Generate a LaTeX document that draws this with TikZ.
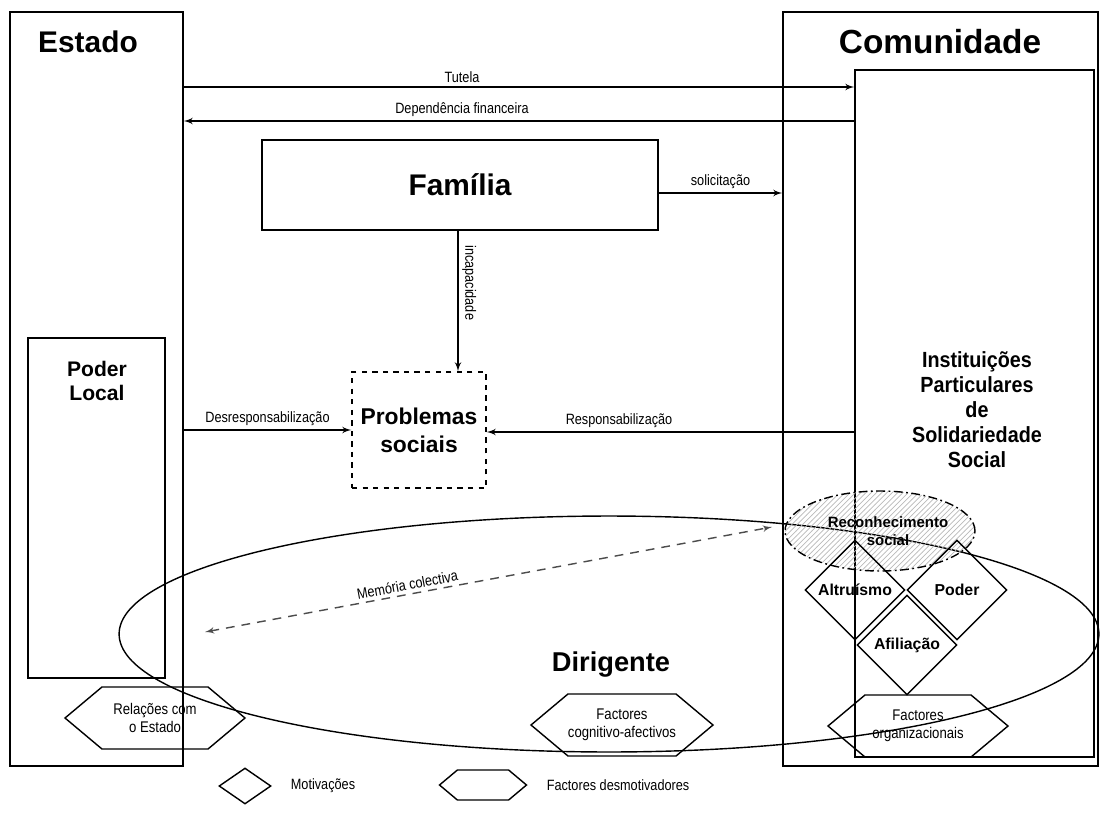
\documentclass[tikz,border=0pt]{standalone}
\usepackage{fontspec}
\setmainfont{Liberation Sans}
\newfontfamily\narrowfont[FakeStretch=0.85]{Liberation Sans}
\newfontfamily\ipssfamily[FakeStretch=0.9]{Liberation Sans}
\usepackage{tikz}
\usetikzlibrary{shapes,arrows,calc,patterns,positioning}
\newcommand{\titlefont}{\bfseries\fontsize{17}{20}\selectfont}
\newcommand{\boxfont}{\bfseries\fontsize{13}{16}\selectfont}
\newcommand{\ipssfont}{\ipssfamily\bfseries\fontsize{12.5}{14.2}\selectfont}
\newcommand{\smallfont}{\narrowfont\fontsize{8.5}{10}\selectfont}
\tikzstyle{line} = [draw, -latex']
\tikzstyle{block} = [draw, rectangle, text centered]
\tikzstyle{lbl} = [font=\smallfont, inner sep=2pt]
\tikzstyle{motive} = [draw, diamond, text centered, minimum width=2cm, minimum height=2cm, inner sep=0pt, font=\bfseries\fontsize{9}{11}\selectfont]
\tikzstyle{barrier} = [draw, signal, signal to=west and east, signal pointer angle=80, align=center, minimum width=3.6cm, minimum height=1.24cm, inner sep=0pt, font=\narrowfont\fontsize{8.8}{10.5}\selectfont]
\tikzstyle{memory} = [draw, black!70, dash pattern=on 5pt off 4pt, latex'-latex']
\tikzstyle{recog} = [draw, ellipse, dash pattern=on 5pt off 2pt on 1pt off 2pt, pattern=north east lines, pattern color=gray!55]

\begin{document}
\begin{tikzpicture}[x=0.02cm, y=-0.02cm, thick]
        \useasboundingbox (0,0) rectangle (1101,821);
        % the two sides
        \node[block, minimum width=3.46cm, minimum height=15.08cm] (estado) at (96.5,389) {};
        \node[block, minimum width=6.3cm, minimum height=15.08cm] (comunidade) at (940.5,389) {};
        \node[block, minimum width=4.78cm, minimum height=13.74cm] (ipss) at (974.5,413.5) {};
        \node[block, minimum width=2.74cm, minimum height=6.8cm] (poder) at (96.5,508) {};
        \node[font=\titlefont] (estadoT) at (88,42) {Estado};
        \node[font=\bfseries\fontsize{19}{22}\selectfont] (comunidadeT) at (940,42) {Comunidade};
        \node[font=\bfseries\fontsize{12}{14}\selectfont, align=center] (poderT) at (97,381) {Poder\\Local};
        \node[font=\ipssfont, align=center] (ipssT) at (977,410) {Instituições\\Particulares\\de\\Solidariedade\\Social};
        % middle
        \node[block, minimum width=7.92cm, minimum height=1.8cm, font=\bfseries\fontsize{17}{20}\selectfont] (familia) at (460,185) {Família};
        \node[block, dashed, minimum width=2.68cm, minimum height=2.32cm, align=center, font=\boxfont] (problemas) at (419,430) {Problemas\\sociais};
        \coordinate (tut) at (0,87);
        \coordinate (dep) at (0,121);
        \coordinate (sol) at (0,193);
        \coordinate (inc) at (458,0);
        \coordinate (des) at (0,430);
        \coordinate (res) at (0,432);
        \path[line] (estado.east |- tut) -- node[lbl, above, pos=0.415] {Tutela} (ipss.west |- tut);
        \path[line] (ipss.west |- dep) -- node[lbl, above, pos=0.585] {Dependência financeira} (estado.east |- dep);
        \path[line] (familia.east |- sol) -- node[lbl, above] {solicitação} (comunidade.west |- sol);
        \path[line] (familia.south -| inc) -- node[lbl, above, sloped, pos=0.37] {incapacidade} (problemas.north -| inc);
        \path[line] (estado.east |- des) -- node[lbl, above] {Desresponsabilização} (problemas.west |- des);
        \path[line] (ipss.west |- res) -- node[lbl, above, pos=0.64] {Responsabilização} (problemas.east |- res);
        % the leader
        \node[draw, ellipse, minimum width=19.6cm, minimum height=4.72cm] (dirigente) at (609,634) {};
        \node[font=\bfseries\fontsize{15.5}{18}\selectfont] (dirigenteT) at (611,665) {Dirigente};
        \coordinate (memL) at (205,632);
        \coordinate (memR) at (772,527);
        \draw[memory] (memL) -- node[lbl, black, above, sloped, pos=0.36] {Memória colectiva} (memR);
        \node[recog, minimum width=3.8cm, minimum height=1.6cm] (reconhecimento) at (880,531) {};
        \node[font=\bfseries\fontsize{8.5}{10}\selectfont, align=center] (reconT) at (888,531) {Reconhecimento\\social};
        \node[motive] (altruismo) at (855,590) {Altruísmo};
        \node[motive] (poderM) at (957,590) {Poder};
        \node[motive] (afiliacao) at (907,645) {Afiliação};
        \node[barrier] (relacoes) at (155,718) {Relações com\\o Estado};
        \node[barrier] (cognitivo) at (622,725) {Factores\\cognitivo-afectivos};
        \node[barrier] (organizacional) at (918,726) {Factores\\organizacionais};
        % legend
        \node[draw, diamond, aspect=1.45, minimum width=1.04cm, minimum height=0.72cm, inner sep=0pt] (legMot) at (245,786) {};
        \node[lbl, right=0.3cm of legMot] (legMotT) {Motivações};
        \node[barrier, minimum width=1.74cm, minimum height=0.6cm] (legFac) at (483,785) {};
        \node[lbl, right=0.3cm of legFac] (legFacT) {Factores desmotivadores};
\end{tikzpicture}
\end{document}
